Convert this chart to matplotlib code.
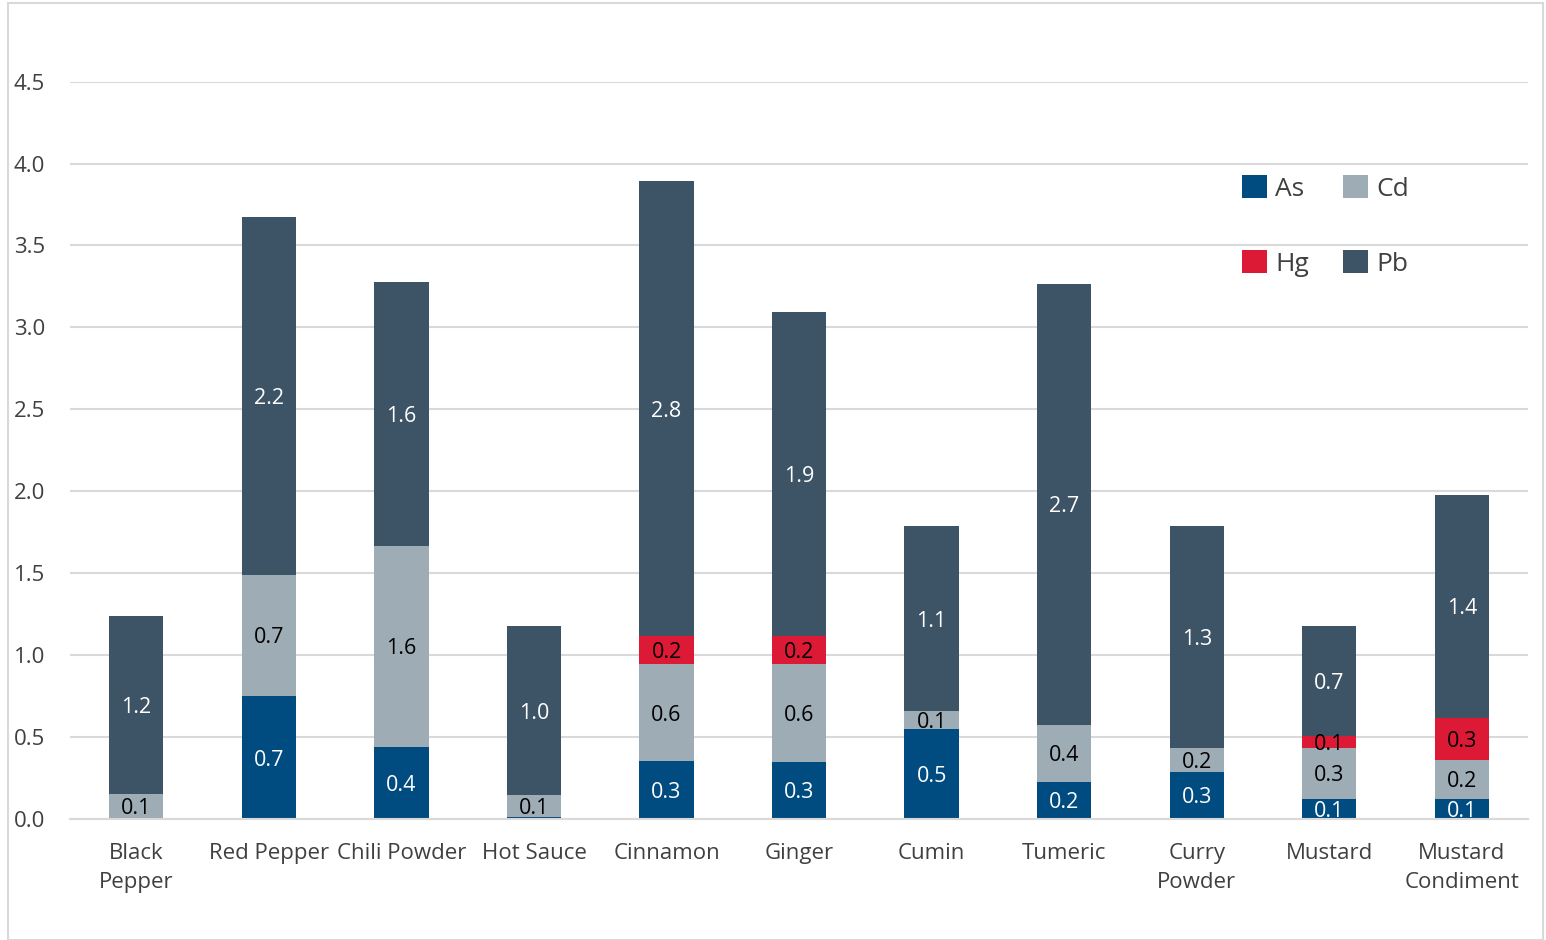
import matplotlib.pyplot as plt
import numpy as np
from matplotlib.patches import Rectangle

plt.rcParams['font.family'] = ['Open Sans', 'DejaVu Sans']

spices = ['Black\nPepper', 'Red Pepper', 'Chili Powder', 'Hot Sauce', 'Cinnamon', 'Ginger',
          'Cumin', 'Tumeric', 'Curry\nPowder', 'Mustard', 'Mustard\nCondiment']

# bar heights
As = [0.005, 0.75, 0.44, 0.01, 0.355, 0.35, 0.55, 0.227, 0.288, 0.123, 0.123]
Cd = [0.148, 0.741, 1.226, 0.137, 0.589, 0.595, 0.11, 0.349, 0.147, 0.312, 0.239]
Hg = [0, 0, 0, 0, 0.171, 0.171, 0, 0, 0, 0.074, 0.257]
Pb = [1.085, 2.181, 1.611, 1.029, 2.776, 1.979, 1.127, 2.69, 1.354, 0.667, 1.36]

# data labels as printed on the chart
As_lab = ['', '0.7', '0.4', '', '0.3', '0.3', '0.5', '0.2', '0.3', '0.1', '0.1']
Cd_lab = ['0.1', '0.7', '1.6', '0.1', '0.6', '0.6', '0.1', '0.4', '0.2', '0.3', '0.2']
Hg_lab = ['', '', '', '', '0.2', '0.2', '', '', '', '0.1', '0.3']
Pb_lab = ['1.2', '2.2', '1.6', '1.0', '2.8', '1.9', '1.1', '2.7', '1.3', '0.7', '1.4']

colors = {'As': '#004B7F', 'Cd': '#9EACB6', 'Hg': '#DC1A35', 'Pb': '#3D5366'}
txtcol = {'As': 'white', 'Cd': 'black', 'Hg': 'black', 'Pb': 'white'}

fig = plt.figure(figsize=(15.46, 9.4), dpi=100)
ax = fig.add_axes([0.0453, 0.1287, 0.9431, 0.7845])
fig.patches.append(Rectangle((0.005, 0.0), 0.993, 0.997, transform=fig.transFigure,
                             fill=False, edgecolor='#D9D9D9', linewidth=1.5))

x = np.arange(len(spices))
w = 0.41
bottom = np.zeros(len(spices))
bars = {}
for name, vals, labs in [('As', As, As_lab), ('Cd', Cd, Cd_lab), ('Hg', Hg, Hg_lab), ('Pb', Pb, Pb_lab)]:
    vals = np.array(vals)
    bars[name] = ax.bar(x, vals, w, bottom=bottom, color=colors[name], label=name, zorder=2)
    for i in range(len(spices)):
        if labs[i]:
            ax.text(x[i], bottom[i] + vals[i] / 2, labs[i], ha='center', va='center_baseline',
                    fontsize=15.5, color=txtcol[name], zorder=3)
    bottom = bottom + vals

ax.set_xlim(-0.5, len(spices) - 0.5)
ax.set_ylim(0, 4.5)
ax.set_yticks(np.arange(0, 4.51, 0.5))
ax.set_yticklabels(['%.1f' % v for v in np.arange(0, 4.51, 0.5)])
ax.set_xticks(x)
ax.set_xticklabels(spices, linespacing=1.55)
ax.tick_params(axis='both', length=0, labelsize=16, labelcolor='#404040')
ax.tick_params(axis='y', pad=18)
ax.tick_params(axis='x', pad=17)
ax.yaxis.grid(True, color='#D9D9D9', linewidth=1.5, zorder=0)
ax.set_axisbelow(True)
for s in ['top', 'right', 'left']:
    ax.spines[s].set_visible(False)
ax.spines['bottom'].set_color('#D9D9D9')
ax.spines['bottom'].set_linewidth(1.5)

handles = [bars['As'], bars['Hg'], bars['Cd'], bars['Pb']]
fig.legend(handles, ['As', 'Hg', 'Cd', 'Pb'], ncol=2, loc='upper left',
           bbox_to_anchor=(1229 / 1546, 1 - 162 / 940), frameon=False, fontsize=19,
           handlelength=0.95, handleheight=0.95, handletextpad=0.3,
           columnspacing=1.3, labelspacing=1.85, borderpad=0, labelcolor='#404040')

plt.savefig('out.png', dpi=100)
